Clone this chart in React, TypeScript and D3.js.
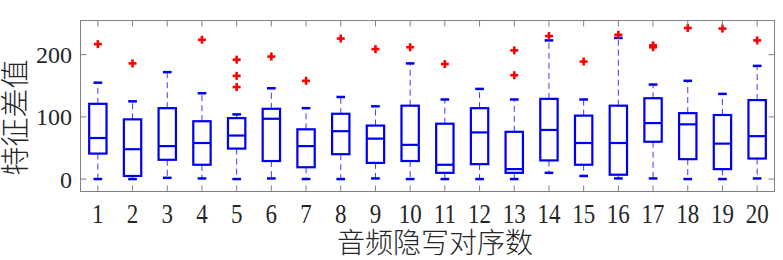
import React from "react";
import * as d3 from "d3";

const categories = ["1","2","3","4","5","6","7","8","9","10","11","12","13","14","15","16","17","18","19","20"];
const lowerWhisker = [0, 0, 2, 1, 0, 1, 0, 0, 1, 0, 0, 0, 0, 10, 5, 1, 1, 0, 0, 1];
const q1 = [41, 5, 31, 23, 49, 29, 19, 40, 26, 29, 10, 24, 10, 30, 23, 7, 60, 32, 16, 33];
const medians = [66, 48, 53, 58, 70, 97, 53, 77, 65, 55, 23, 75, 16, 79, 58, 58, 90, 88, 57, 69];
const q3 = [121, 96, 114, 93, 98, 113, 80, 105, 86, 118, 89, 114, 76, 129, 102, 118, 130, 106, 103, 127];
const upperWhisker = [155, 125, 172, 138, 104, 146, 114, 132, 117, 186, 128, 145, 128, 223, 128, 227, 152, 158, 137, 182];
const outliers: number[][] = [
  [217], [186], [], [224], [192, 166, 148], [197], [158], [226], [209], [212],
  [185], [], [207, 167], [230], [189], [232], [212, 215], [243], [242], [223],
];
const yTicks = [0, 100, 200];
const xLabel = "音频隐写对序数";
const yLabel = "特征差值";

const W = 783, H = 260;
const L = 80.5, R = 774.5, T = 20.5, B = 191.5;

export default function App() {
  const x = d3.scaleLinear().domain([0.5, 20.5]).range([L, R]);
  const y = d3.scaleLinear().domain([-20, 255]).range([B, T]);
  const bw = x(1.25) - x(1); // half box width
  const cw = x(1.125) - x(1); // half cap width
  const axisColor = "#808080";
  const txt = "#262626";
  const blue = "#0000f0";
  const tickLen = 6;

  return (
    <svg width={W} height={H} style={{ position: "absolute", left: 0, top: 0, background: "#fff" }}>
      {categories.map((c, i) => {
        const cx = x(i + 1);
        return (
          <g key={c}>
            <line x1={cx} x2={cx} y1={y(q3[i])} y2={y(upperWhisker[i])} stroke="#3b3bff" strokeWidth={1} strokeDasharray="6 4" />
            <line x1={cx} x2={cx} y1={y(q1[i])} y2={y(lowerWhisker[i])} stroke="#3b3bff" strokeWidth={1} strokeDasharray="6 4" />
            <line x1={cx - cw} x2={cx + cw} y1={y(upperWhisker[i])} y2={y(upperWhisker[i])} stroke={blue} strokeWidth={2.5} />
            <line x1={cx - cw} x2={cx + cw} y1={y(lowerWhisker[i])} y2={y(lowerWhisker[i])} stroke={blue} strokeWidth={2.5} />
            <rect x={cx - bw} y={y(q3[i])} width={2 * bw} height={y(q1[i]) - y(q3[i])} fill="none" stroke={blue} strokeWidth={2.2} />
            <line x1={cx - bw} x2={cx + bw} y1={y(medians[i])} y2={y(medians[i])} stroke={blue} strokeWidth={2.2} />
            {outliers[i].map((v, j) => (
              <g key={j} stroke="#ff0000" strokeWidth={2.6}>
                <line x1={cx - 4} x2={cx + 4} y1={y(v)} y2={y(v)} />
                <line x1={cx} x2={cx} y1={y(v) - 4} y2={y(v) + 4} />
              </g>
            ))}
          </g>
        );
      })}
      <rect x={L} y={T} width={R - L} height={B - T} fill="none" stroke={axisColor} strokeWidth={1} />
      {categories.map((c, i) => (
        <g key={"xt" + c}>
          <line x1={x(i + 1)} x2={x(i + 1)} y1={B} y2={B - tickLen} stroke={axisColor} strokeWidth={1} />
          <line x1={x(i + 1)} x2={x(i + 1)} y1={T} y2={T + tickLen} stroke={axisColor} strokeWidth={1} />
          <text
            transform={`translate(${x(i + 1)},222.5) scale(1,1.15)`}
            textAnchor="middle"
            fontFamily="'Liberation Serif', 'Times New Roman', serif"
            fontSize={23}
            fill={txt}
          >
            {c}
          </text>
        </g>
      ))}
      {yTicks.map((t) => (
        <g key={"yt" + t}>
          <line x1={L} x2={L + tickLen} y1={y(t)} y2={y(t)} stroke={axisColor} strokeWidth={1} />
          <line x1={R} x2={R - tickLen} y1={y(t)} y2={y(t)} stroke={axisColor} strokeWidth={1} />
          <text
            x={72}
            y={y(t) + 8.5}
            textAnchor="end"
            fontFamily="'Liberation Serif', 'Times New Roman', serif"
            fontSize={24}
            fill={txt}
          >
            {t}
          </text>
        </g>
      ))}
      <text
        x={435}
        y={253}
        textAnchor="middle"
        fontFamily="'Noto Sans CJK SC', sans-serif"
        fontWeight={300}
        fontSize={28}
        fill={txt}
      >
        {xLabel}
      </text>
      <text
        transform={`translate(26,117.5) rotate(-90)`}
        textAnchor="middle"
        fontFamily="'Noto Sans CJK SC', sans-serif"
        fontWeight={300}
        fontSize={29}
        fill={txt}
      >
        {yLabel}
      </text>
    </svg>
  );
}
